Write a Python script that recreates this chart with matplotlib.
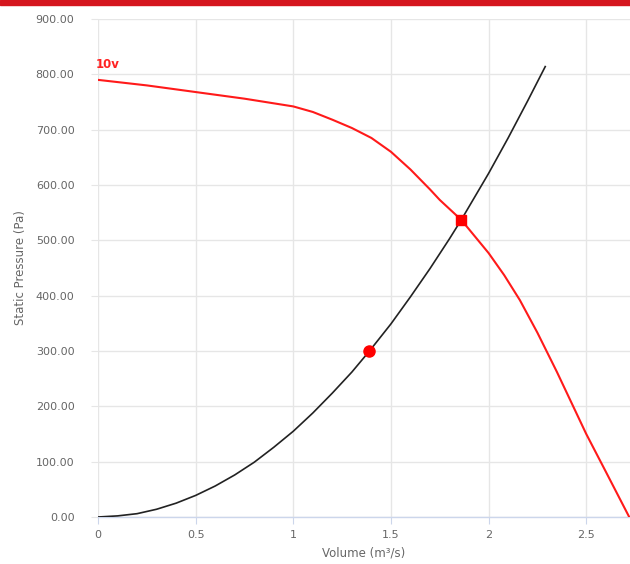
import matplotlib
matplotlib.use("Agg")
import matplotlib.pyplot as plt
from matplotlib.patches import Rectangle

# Fan curve (10v)
fan_x = [0.0, 0.25, 0.5, 0.75, 1.0, 1.1, 1.2, 1.3, 1.4, 1.5, 1.6, 1.7, 1.75, 1.86, 2.0, 2.08, 2.16, 2.25, 2.35, 2.5, 2.6, 2.72]
fan_y = [790, 780, 768, 756, 742, 732, 718, 703, 685, 660, 628, 592, 573, 537, 477, 437, 392, 333, 262, 150, 82, 0]

# System curve
sys_x = [0.0, 0.1, 0.2, 0.3, 0.4, 0.5, 0.6, 0.7, 0.8, 0.9, 1.0, 1.1, 1.2, 1.3, 1.39, 1.5, 1.6, 1.7, 1.8, 1.86, 1.9, 2.0, 2.1, 2.2, 2.29]
sys_y = [0, 2, 6, 14, 25, 39, 56, 76, 99, 126, 155, 188, 224, 262, 300, 349, 398, 449, 503, 537, 561, 621, 685, 752, 814]

# Points
op_x, op_y = [1.86], [537]       # operating point (square)
dp_x, dp_y = [1.39], [300]       # design point (circle)

x_ticks = [0, 0.5, 1, 1.5, 2, 2.5]
x_tick_labels = ["0", "0.5", "1", "1.5", "2", "2.5"]
y_ticks = [0, 100, 200, 300, 400, 500, 600, 700, 800, 900]
y_tick_labels = ["0.00", "100.00", "200.00", "300.00", "400.00", "500.00", "600.00", "700.00", "800.00", "900.00"]

fig = plt.figure(figsize=(6.3, 5.64), dpi=100)
fig.patches.append(Rectangle((0, 1 - 5 / 564), 1, 5 / 564, transform=fig.transFigure,
                             color="#d5161e", zorder=10))

ax = fig.add_axes([98 / 630, 47 / 564, 532 / 630, 498 / 564])
ax.set_xlim(0, 2.724)
ax.set_ylim(0, 900)

ax.plot(sys_x, sys_y, color="#222222", lw=1.2, zorder=3)
ax.plot(fan_x, fan_y, color="#ff1a1a", lw=1.5, zorder=4)
ax.plot(op_x, op_y, marker="s", color="#ff0000", ms=7, ls="none", zorder=5)
ax.plot(dp_x, dp_y, marker="o", color="#ff0000", ms=8, ls="none", zorder=5)

ax.text(-0.01, 806, "10v", color="#ff2222", fontsize=8.5, fontweight="bold", ha="left", va="bottom")

ax.set_xticks(x_ticks)
ax.set_xticklabels(x_tick_labels)
ax.set_yticks(y_ticks)
ax.set_yticklabels(y_tick_labels)
ax.grid(True, color="#e6e6e6", lw=1)
ax.set_axisbelow(True)
for s in ["top", "right", "left"]:
    ax.spines[s].set_visible(False)
ax.spines["bottom"].set_color("#ccd6eb")
ax.spines["bottom"].set_linewidth(1)
ax.tick_params(axis="x", colors="#ccd6eb", labelcolor="#666666", labelsize=8, length=5, pad=4)
ax.tick_params(axis="y", colors="#e6e6e6", labelcolor="#666666", labelsize=8, length=5, pad=12)

ax.set_xlabel("Volume (m³/s)", color="#666666", fontsize=8.5, labelpad=5)
ax.set_ylabel("Static Pressure (Pa)", color="#666666", fontsize=8.5, labelpad=6)

fig.savefig("out.png", dpi=100)
